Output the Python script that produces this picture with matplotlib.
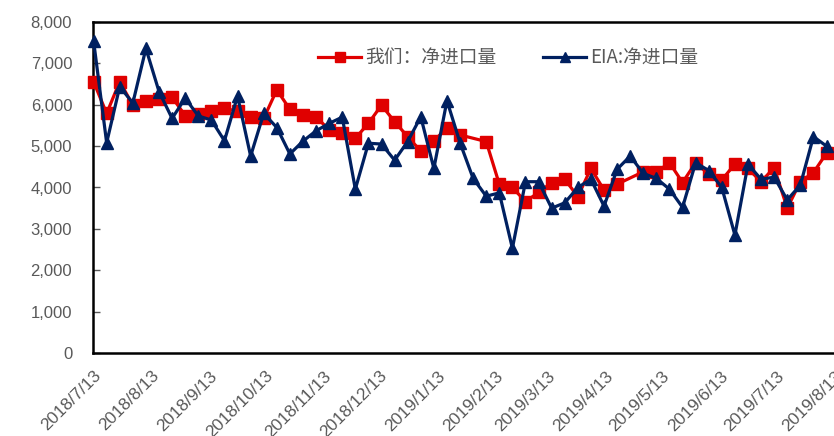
import matplotlib
matplotlib.use("Agg")
import matplotlib.pyplot as plt
import matplotlib.dates as mdates
import numpy as np
import datetime as dt

plt.rcParams['font.family'] = ['Noto Sans CJK SC', 'DejaVu Sans']

start = dt.date(2018, 7, 13)
dates = [start + dt.timedelta(days=7 * i) for i in range(57)]

ours = [6560, 5790, 6560, 5990, 6080, 6130, 6180, 5740, 5780, 5850,
        5910, 5850, 5700, 5670, 6360, 5890, 5750, 5710, 5390, 5320,
        5190, 5550, 5990, 5590, 5230, 4880, 5120, 5450, 5270, None,
        5110, 4080, 4000, 3660, 3880, 4120, 4200, 3780, 4460, 3940,
        4080, None, 4380, 4370, 4600, 4120, 4600, 4320, 4180, 4570,
        4460, 4140, 4480, 3500, 4140, 4360, 4830]

eia = [7550, 5080, 6440, 6040, 7360, 6320, 5670, 6160, 5730, 5630,
       5130, 6210, 4760, 5790, 5450, 4810, 5120, 5370, 5550, 5700,
       3960, 5070, 5050, 4660, 5110, 5710, 4460, 6100, 5080, 4220,
       3790, 3870, 2530, 4140, 4140, 3500, 3630, 4000, 4200, 3550,
       4440, 4760, 4340, 4220, 3960, 3520, 4600, 4410, 4000, 2850,
       4560, 4200, 4250, 3700, 4060, 5230, 5000]

tick_dates = [dt.date(2018 + (6 + k) // 12, (6 + k) % 12 + 1, 13) for k in range(14)]
tick_labels = [f"{d.year}/{d.month}/{d.day}" for d in tick_dates]
y_ticks = [0, 1000, 2000, 3000, 4000, 5000, 6000, 7000, 8000]

series_names = ["我们：净进口量", "EIA:净进口量"]

W, H = 834, 436
fig = plt.figure(figsize=(W / 100, H / 100), dpi=100)
ax_left, ax_bottom, ax_w, ax_h = 93, 436 - 353, 741, 331
ax = fig.add_axes([ax_left / W, ax_bottom / H, ax_w / W, ax_h / H])

red = '#E00000'
navy = '#002060'
gray = '#595959'

# red series: connect across missing weeks
rd = [d for d, v in zip(dates, ours) if v is not None]
rv = [v for v in ours if v is not None]
l1, = ax.plot(rd, rv, color=red, lw=2.3, marker='s', ms=8, mec=red, mfc=red,
              label=series_names[0], clip_on=False, zorder=3)
l2, = ax.plot(dates, eia, color=navy, lw=2.3, marker='^', ms=9, mec=navy, mfc=navy,
              label=series_names[1], clip_on=False, zorder=4)

x0 = mdates.date2num(start)
ax.set_xlim(x0 - 0.3, x0 + 393.8)
ax.set_ylim(0, 8000)

ax.set_yticks(y_ticks)
ax.set_yticklabels([f"{v:,}" for v in y_ticks], fontsize=12, color=gray,
                   family=['Liberation Sans', 'DejaVu Sans'])
ax.tick_params(axis='y', direction='in', length=5, width=1, color=gray, pad=15)

ax.set_xticks([mdates.date2num(d) for d in tick_dates])
ax.set_xticklabels(tick_labels, rotation=45, ha='right', va='top',
                   rotation_mode='anchor', fontsize=12.5, color=gray,
                   family=['Liberation Sans', 'DejaVu Sans'])
ax.tick_params(axis='x', length=0, pad=11)

for s in ['left', 'top', 'bottom']:
    ax.spines[s].set_linewidth(1.8)
    ax.spines[s].set_color('black')
ax.spines['right'].set_visible(False)

leg = ax.legend(handles=[l1, l2], loc='center', bbox_to_anchor=(0.560, 0.891),
                ncol=2, frameon=False, fontsize=13.5, handlelength=2.3,
                columnspacing=2.5, handletextpad=0.2, labelcolor=gray,
                markerscale=0.85)

fig.savefig('out.png', dpi=100)
